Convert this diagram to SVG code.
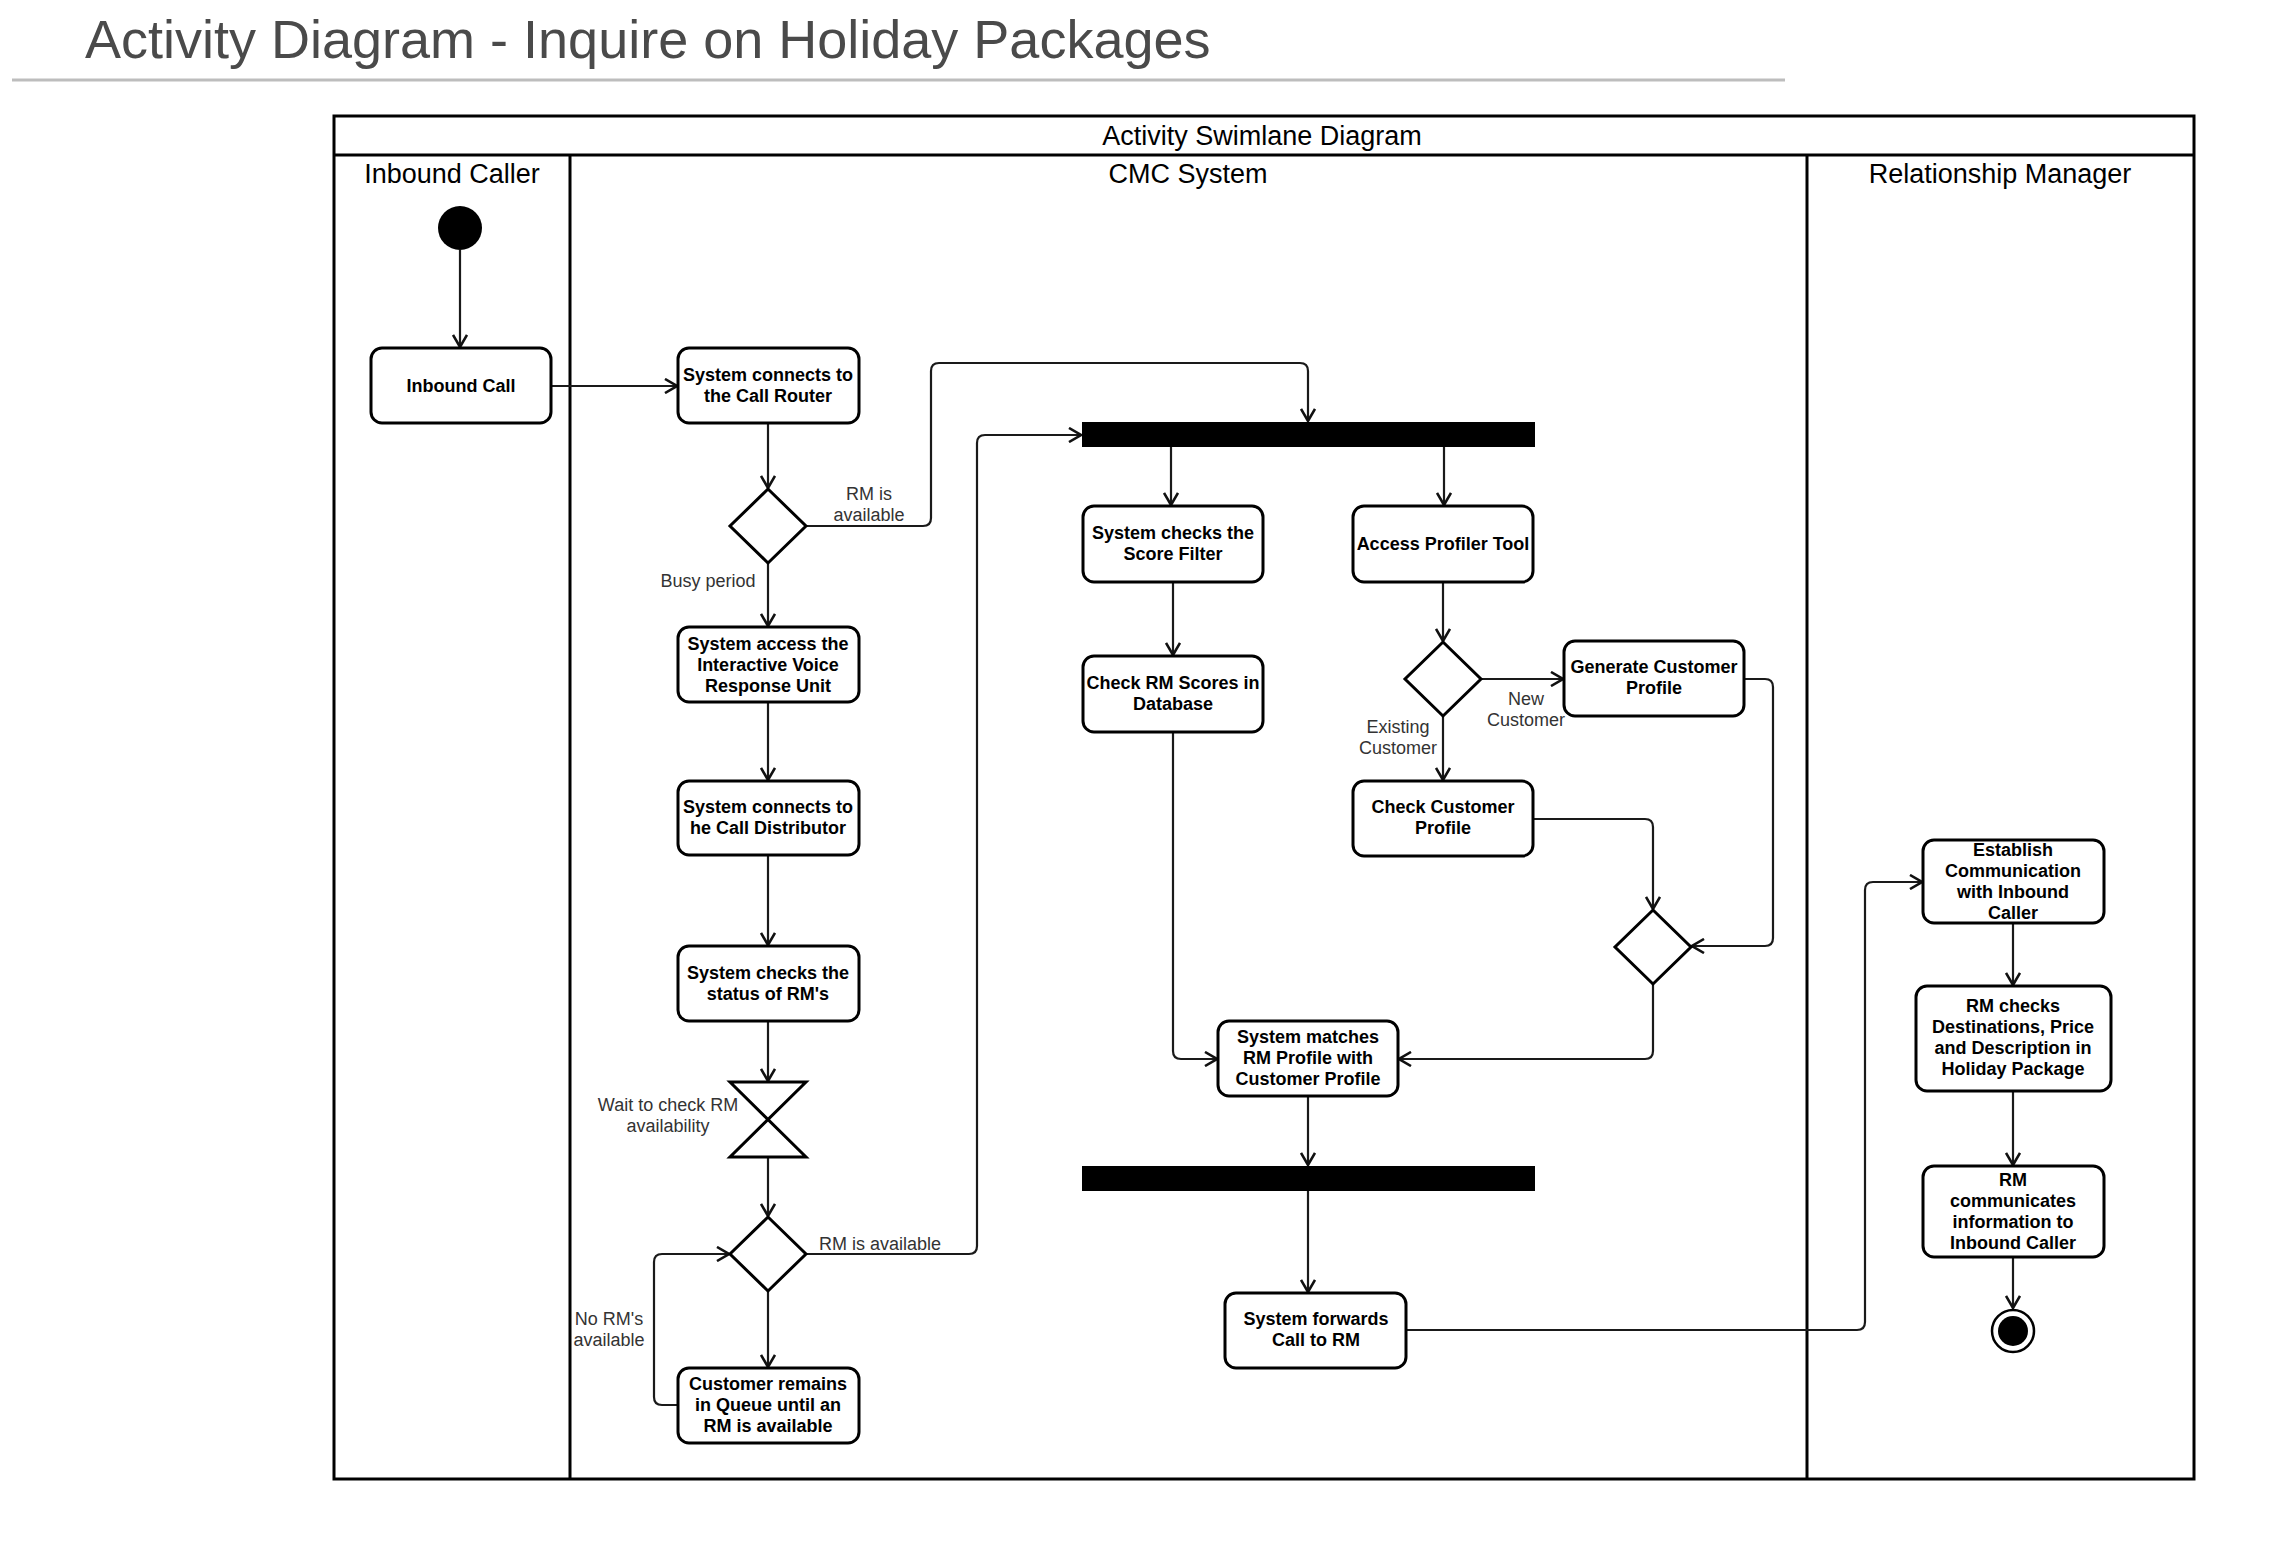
<svg xmlns="http://www.w3.org/2000/svg" width="2296" height="1541" viewBox="0 0 2296 1541">
  <defs>
    <marker id="arrow" viewBox="0 0 14 16" refX="13" refY="8" markerWidth="14" markerHeight="16" markerUnits="userSpaceOnUse" orient="auto">
      <path d="M1,1 L13,8 L1,15" fill="none" stroke="#111" stroke-width="2.6" stroke-linejoin="miter"/>
    </marker>
  </defs>
  <style>
    .title { font-family: "Liberation Sans", Arial, sans-serif; font-size: 54px; fill: #4a4a4a; }
    .lane { font-family: "Liberation Sans", Arial, sans-serif; font-size: 27px; fill: #000; text-anchor: middle; }
    .frame { fill: none; stroke: #000; stroke-width: 3; }
    .act { fill: #fff; stroke: #000; stroke-width: 3; }
    .act-text { font-family: "Liberation Sans", Arial, sans-serif; font-size: 18px; font-weight: bold; fill: #000; text-anchor: middle; }
    .decision { fill: #fff; stroke: #000; stroke-width: 3; }
    .bar { fill: #000; }
    .edge { fill: none; stroke: #1a1a1a; stroke-width: 2.2; marker-end: url(#arrow); }
    .elabel { font-family: "Liberation Sans", Arial, sans-serif; font-size: 18px; fill: #333; text-anchor: middle; }
  </style>

  <rect width="2296" height="1541" fill="#fff"/>

  <!-- Page heading -->
  <text class="title" x="85" y="58">Activity Diagram - Inquire on Holiday Packages</text>
  <line x1="12" y1="80" x2="1785" y2="80" stroke="#bdbdbd" stroke-width="3"/>

  <!-- Swimlane frame -->
  <g id="swimlanes">
    <rect class="frame" x="334" y="116" width="1860" height="1363"/>
    <line class="frame" x1="334" y1="155" x2="2194" y2="155"/>
    <line class="frame" x1="570" y1="155" x2="570" y2="1479"/>
    <line class="frame" x1="1807" y1="155" x2="1807" y2="1479"/>
    <text class="lane" x="1262" y="145">Activity Swimlane Diagram</text>
    <text class="lane" x="452" y="183">Inbound Caller</text>
    <text class="lane" x="1188" y="183">CMC System</text>
    <text class="lane" x="2000" y="183">Relationship Manager</text>
  </g>

  <!-- Connectors -->
  <g id="connectors">
    <path class="edge" d="M460,250 V347"/>
    <path class="edge" d="M551,386 H677"/>
    <path class="edge" d="M768,423 V488"/>
    <path class="edge" d="M806,526 H923 Q931,526 931,518 V371 Q931,363 939,363 H1300 Q1308,363 1308,371 V421"/>
    <path class="edge" d="M768,563 V626"/>
    <path class="edge" d="M768,702 V780"/>
    <path class="edge" d="M768,855 V945"/>
    <path class="edge" d="M768,1021 V1081"/>
    <path class="edge" d="M768,1157 V1216"/>
    <path class="edge" d="M806,1254 H969 Q977,1254 977,1246 V443 Q977,435 985,435 H1081"/>
    <path class="edge" d="M768,1291 V1367"/>
    <path class="edge" d="M678,1405 H662 Q654,1405 654,1397 V1262 Q654,1254 662,1254 H729"/>
    <path class="edge" d="M1171,447 V505"/>
    <path class="edge" d="M1444,447 V505"/>
    <path class="edge" d="M1173,582 V655"/>
    <path class="edge" d="M1443,582 V641"/>
    <path class="edge" d="M1481,679 H1563"/>
    <path class="edge" d="M1443,716 V780"/>
    <path class="edge" d="M1533,819 H1645 Q1653,819 1653,827 V909"/>
    <path class="edge" d="M1744,679 H1765 Q1773,679 1773,687 V938 Q1773,946 1765,946 H1692"/>
    <path class="edge" d="M1653,984 V1051 Q1653,1059 1645,1059 H1399"/>
    <path class="edge" d="M1173,732 V1051 Q1173,1059 1181,1059 H1217"/>
    <path class="edge" d="M1308,1096 V1165"/>
    <path class="edge" d="M1308,1191 V1292"/>
    <path class="edge" d="M1406,1330 H1857 Q1865,1330 1865,1322 V890 Q1865,882 1873,882 H1922"/>
    <path class="edge" d="M2013,923 V985"/>
    <path class="edge" d="M2013,1091 V1165"/>
    <path class="edge" d="M2013,1257 V1308"/>

    <text class="elabel" x="869" y="500">RM is</text>
    <text class="elabel" x="869" y="521">available</text>
    <text class="elabel" x="708" y="587">Busy period</text>
    <text class="elabel" x="668" y="1111">Wait to check RM</text>
    <text class="elabel" x="668" y="1132">availability</text>
    <text class="elabel" x="880" y="1250">RM is available</text>
    <text class="elabel" x="609" y="1325">No RM's</text>
    <text class="elabel" x="609" y="1346">available</text>
    <text class="elabel" x="1526" y="705">New</text>
    <text class="elabel" x="1526" y="726">Customer</text>
    <text class="elabel" x="1398" y="733">Existing</text>
    <text class="elabel" x="1398" y="754">Customer</text>
  </g>

  <!-- Inbound Caller lane -->
  <g id="start">
    <circle cx="460" cy="228" r="22" fill="#000"/>
  </g>
  <g id="inbound-call">
    <rect class="act" x="371" y="348" width="180" height="75" rx="11"/>
    <text class="act-text" x="461" y="392">Inbound Call</text>
  </g>

  <!-- CMC System lane: call handling column -->
  <g id="call-router">
    <rect class="act" x="678" y="348" width="181" height="75" rx="11"/>
    <text class="act-text" x="768" y="381">System connects to</text>
    <text class="act-text" x="768" y="402">the Call Router</text>
  </g>
  <g id="decision-router">
    <polygon class="decision" points="768,489 806,526 768,563 730,526"/>
  </g>
  <g id="ivr">
    <rect class="act" x="678" y="627" width="181" height="75" rx="11"/>
    <text class="act-text" x="768" y="650">System access the</text>
    <text class="act-text" x="768" y="671">Interactive Voice</text>
    <text class="act-text" x="768" y="692">Response Unit</text>
  </g>
  <g id="call-distributor">
    <rect class="act" x="678" y="781" width="181" height="74" rx="11"/>
    <text class="act-text" x="768" y="813">System connects to</text>
    <text class="act-text" x="768" y="834">he Call Distributor</text>
  </g>
  <g id="rm-status">
    <rect class="act" x="678" y="946" width="181" height="75" rx="11"/>
    <text class="act-text" x="768" y="979">System checks the</text>
    <text class="act-text" x="768" y="1000">status of RM's</text>
  </g>
  <g id="wait-rm">
    <polygon class="decision" points="730,1082 806,1082 730,1157 806,1157" stroke-linejoin="miter"/>
  </g>
  <g id="decision-rm">
    <polygon class="decision" points="768,1217 806,1254 768,1291 730,1254"/>
  </g>
  <g id="queue">
    <rect class="act" x="678" y="1368" width="181" height="75" rx="11"/>
    <text class="act-text" x="768" y="1390">Customer remains</text>
    <text class="act-text" x="768" y="1411">in Queue until an</text>
    <text class="act-text" x="768" y="1432">RM is available</text>
  </g>

  <!-- CMC System lane: matching column -->
  <g id="fork">
    <rect class="bar" x="1082" y="422" width="453" height="25"/>
  </g>
  <g id="score-filter">
    <rect class="act" x="1083" y="506" width="180" height="76" rx="11"/>
    <text class="act-text" x="1173" y="539">System checks the</text>
    <text class="act-text" x="1173" y="560">Score Filter</text>
  </g>
  <g id="rm-scores">
    <rect class="act" x="1083" y="656" width="180" height="76" rx="11"/>
    <text class="act-text" x="1173" y="689">Check RM Scores in</text>
    <text class="act-text" x="1173" y="710">Database</text>
  </g>
  <g id="profiler">
    <rect class="act" x="1353" y="506" width="180" height="76" rx="11"/>
    <text class="act-text" x="1443" y="550">Access Profiler Tool</text>
  </g>
  <g id="decision-customer">
    <polygon class="decision" points="1443,642 1481,679 1443,716 1405,679"/>
  </g>
  <g id="generate-profile">
    <rect class="act" x="1564" y="641" width="180" height="75" rx="11"/>
    <text class="act-text" x="1654" y="673">Generate Customer</text>
    <text class="act-text" x="1654" y="694">Profile</text>
  </g>
  <g id="check-profile">
    <rect class="act" x="1353" y="781" width="180" height="75" rx="11"/>
    <text class="act-text" x="1443" y="813">Check Customer</text>
    <text class="act-text" x="1443" y="834">Profile</text>
  </g>
  <g id="merge-profile">
    <polygon class="decision" points="1653,910 1691,947 1653,984 1615,947"/>
  </g>
  <g id="match-profile">
    <rect class="act" x="1218" y="1021" width="180" height="75" rx="11"/>
    <text class="act-text" x="1308" y="1043">System matches</text>
    <text class="act-text" x="1308" y="1064">RM Profile with</text>
    <text class="act-text" x="1308" y="1085">Customer Profile</text>
  </g>
  <g id="join">
    <rect class="bar" x="1082" y="1166" width="453" height="25"/>
  </g>
  <g id="forward-call">
    <rect class="act" x="1225" y="1293" width="181" height="75" rx="11"/>
    <text class="act-text" x="1316" y="1325">System forwards</text>
    <text class="act-text" x="1316" y="1346">Call to RM</text>
  </g>

  <!-- Relationship Manager lane -->
  <g id="establish">
    <rect class="act" x="1923" y="840" width="181" height="83" rx="11"/>
    <text class="act-text" x="2013" y="856">Establish</text>
    <text class="act-text" x="2013" y="877">Communication</text>
    <text class="act-text" x="2013" y="898">with Inbound</text>
    <text class="act-text" x="2013" y="919">Caller</text>
  </g>
  <g id="rm-checks">
    <rect class="act" x="1916" y="986" width="195" height="105" rx="11"/>
    <text class="act-text" x="2013" y="1012">RM checks</text>
    <text class="act-text" x="2013" y="1033">Destinations, Price</text>
    <text class="act-text" x="2013" y="1054">and Description in</text>
    <text class="act-text" x="2013" y="1075">Holiday Package</text>
  </g>
  <g id="rm-communicates">
    <rect class="act" x="1923" y="1166" width="181" height="91" rx="11"/>
    <text class="act-text" x="2013" y="1186">RM</text>
    <text class="act-text" x="2013" y="1207">communicates</text>
    <text class="act-text" x="2013" y="1228">information to</text>
    <text class="act-text" x="2013" y="1249">Inbound Caller</text>
  </g>
  <g id="end">
    <circle cx="2013" cy="1331" r="21" fill="#fff" stroke="#000" stroke-width="2.5"/>
    <circle cx="2013" cy="1331" r="15" fill="#000"/>
  </g>
</svg>
